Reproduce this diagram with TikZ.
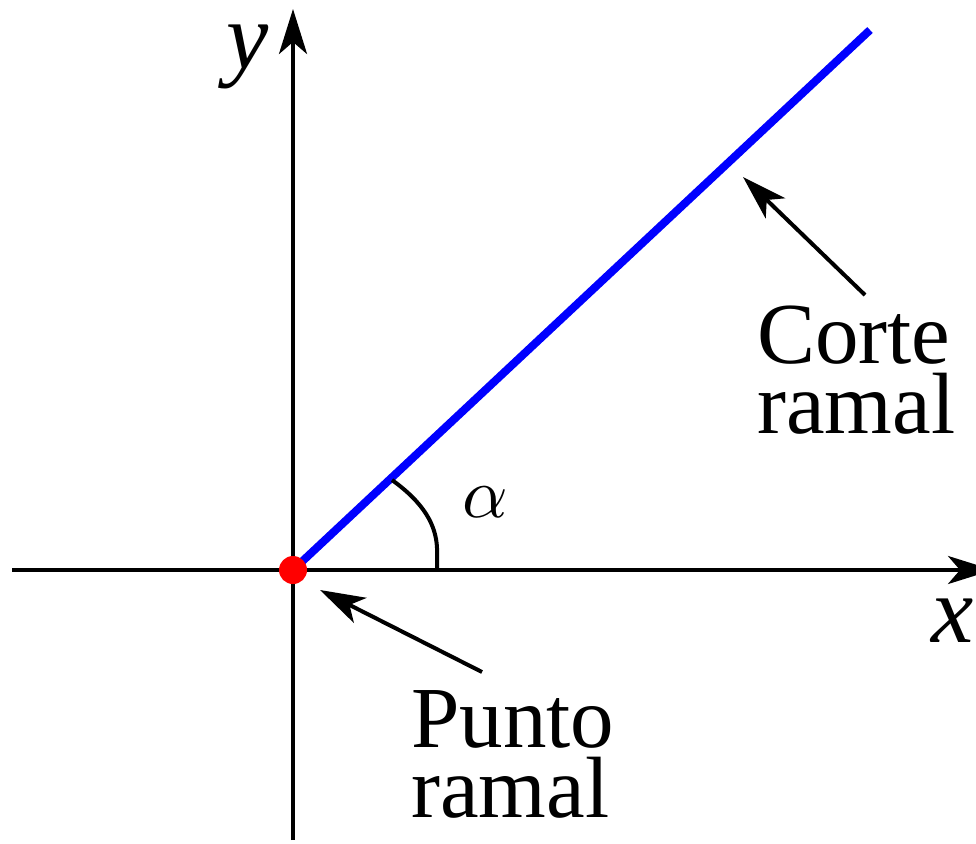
\documentclass[tikz,border=0pt]{standalone}
\usepackage{graphicx}
\usepackage{fontspec}
\setmainfont{Liberation Serif}
\usetikzlibrary{arrows.meta}
\tikzset{
  axis/.style={line width=4pt,-{Stealth[length=45pt,width=28pt,inset=12pt]}},
  pointer/.style={line width=4pt,-{Stealth[length=45pt,width=28pt,inset=12pt]}},
  lbl/.style={anchor=base west,inner sep=0pt,align=left,font=\fontsize{87}{69.5}\selectfont},
  var/.style={anchor=base west,inner sep=0pt,text height=45pt,text depth=20pt,font=\fontsize{95}{95}\selectfont\itshape},
}
\begin{document}
\begin{tikzpicture}[x=1pt,y=-1pt]
\useasboundingbox (0,0) rectangle (976,843);
\coordinate (O) at (293,570);
\coordinate (xl) at (12,570);
\coordinate (xr) at (993,570);
\coordinate (yb) at (293,840);
\coordinate (yt) at (293,9);
\coordinate (cutend) at (870,30);
\draw[axis] (xl) -- (xr);
\draw[axis] (yb) -- (yt);
\draw[blue,line width=8pt] (O) -- (cutend);
\coordinate (a1) at (392,480);
\coordinate (a2) at (437,568);
\draw[line width=4pt] (a1) .. controls (424,503) and (436,525) .. (437,548) -- (a2);
\node[circle,fill=red,inner sep=0pt,minimum size=28pt] (dot) at (O) {};
\node[var] (ylab) at (226,68) {y};
\node[var] (xlab) at (931,642) {x};
\node[anchor=base west,inner sep=0pt] (alpha) at (462,517) {\scalebox{7.1}{$\alpha$}};
\node[lbl] (corte) at (757,433) {Corte\\ramal};
\node[lbl] (punto) at (411,817) {Punto\\ramal};
\coordinate (t1) at (865,295);
\coordinate (h1) at (743,177);
\coordinate (t2) at (482,672);
\coordinate (h2) at (320,590);
\draw[pointer] (t1) -- (h1);
\draw[pointer] (t2) -- (h2);
\end{tikzpicture}
\end{document}
